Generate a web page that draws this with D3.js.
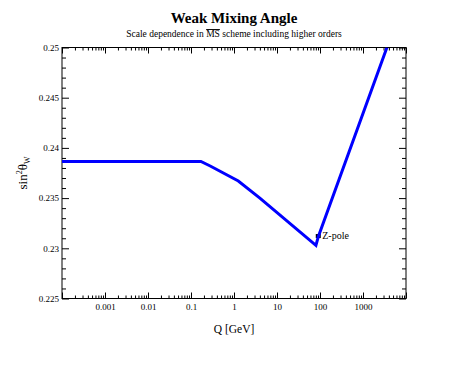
<!DOCTYPE html>
<html><head><meta charset="utf-8">
<script src="https://cdn.jsdelivr.net/npm/d3@7"></script>
<style>
html,body{margin:0;padding:0;background:#fff;}
svg{display:block;}
</style></head>
<body>
<script>
// ---- data ----
const qValues    = [0.0001, 0.17, 0.28, 1.26, 4.0, 80.4, 91.19, 3600];
const sin2Values = [0.23865, 0.23865, 0.2382, 0.2367, 0.2350, 0.2303, 0.23115, 0.2500];
const zPole = {q: 91.19, value: 0.23122, label: "Z-pole"};
const xTickValues = [0.001, 0.01, 0.1, 1, 10, 100, 1000];
const xTickLabels = ["0.001", "0.01", "0.1", "1", "10", "100", "1000"];
const yTickValues = [0.225, 0.23, 0.235, 0.24, 0.245, 0.25];
const yTickLabels = ["0.225", "0.23", "0.235", "0.24", "0.245", "0.25"];
const titleText = "Weak Mixing Angle";
const xTitle = "Q [GeV]";

const FONT = "Liberation Serif";
const W = 473, H = 373;
const m = {left: 62, right: 67, top: 47.5, bottom: 74.5};
const iw = W - m.left - m.right, ih = H - m.top - m.bottom;

const svg = d3.select("body").append("svg").attr("width", W).attr("height", H)
  .attr("font-family", FONT);
svg.append("rect").attr("width", W).attr("height", H).attr("fill", "#fff");

const x = d3.scaleLog().domain([1e-4, 1e4]).range([0, iw]);
const y = d3.scaleLinear().domain([0.225, 0.25]).range([ih, 0]);

const g = svg.append("g").attr("transform", `translate(${m.left},${m.top})`);

const xMinor = [];
for (let e = -4; e < 4; e++) for (let k = 2; k <= 9; k++) xMinor.push(k * Math.pow(10, e));
const xMajorAll = d3.range(-4, 5).map(e => Math.pow(10, e));
const yMinor = d3.range(0, 26).map(i => 0.225 + i * 0.001).filter(v => Math.abs(Math.round(v * 200) - v * 200) > 1e-6);

function drawAxis(axis, tr) {
  const a = g.append("g").attr("transform", tr).call(axis);
  a.attr("font-family", FONT).attr("font-size", 9);
  a.select(".domain").remove();
  a.selectAll("line").attr("stroke", "#000").attr("stroke-width", 1);
  a.selectAll("text").attr("fill", "#000");
  return a;
}
// bottom
drawAxis(d3.axisBottom(x).tickValues(xMinor).tickSize(-3).tickFormat(""), `translate(0,${ih})`);
drawAxis(d3.axisBottom(x).tickValues(xMajorAll).tickSize(-6).tickFormat(""), `translate(0,${ih})`);
drawAxis(d3.axisBottom(x).tickValues(xTickValues).tickSize(0).tickPadding(5)
  .tickFormat((d, i) => xTickLabels[i]), `translate(0,${ih})`);
// top
drawAxis(d3.axisTop(x).tickValues(xMinor).tickSize(-3).tickFormat(""), `translate(0,0)`);
drawAxis(d3.axisTop(x).tickValues(xMajorAll).tickSize(-6).tickFormat(""), `translate(0,0)`);
// left
drawAxis(d3.axisLeft(y).tickValues(yMinor).tickSize(-4).tickFormat(""), `translate(0,0)`);
drawAxis(d3.axisLeft(y).tickValues(yTickValues).tickSize(-7).tickPadding(3)
  .tickFormat((d, i) => yTickLabels[i]), `translate(0,0)`);
// right
drawAxis(d3.axisRight(y).tickValues(yMinor).tickSize(-4).tickFormat(""), `translate(${iw},0)`);
drawAxis(d3.axisRight(y).tickValues(yTickValues).tickSize(-7).tickFormat(""), `translate(${iw},0)`);

g.append("rect").attr("width", iw).attr("height", ih).attr("fill", "none").attr("stroke", "#000").attr("stroke-width", 1);

svg.append("clipPath").attr("id", "clip").append("rect")
  .attr("x", m.left).attr("y", m.top).attr("width", iw).attr("height", ih);

const pts = qValues.map((q, i) => [q, sin2Values[i]]);
const line = d3.line().x(d => x(d[0])).y(d => y(d[1]));
svg.append("g").attr("clip-path", "url(#clip)").append("path")
  .attr("transform", `translate(${m.left},${m.top})`)
  .datum(pts).attr("d", line).attr("fill", "none")
  .attr("stroke", "#0000ff").attr("stroke-width", 3).attr("stroke-linejoin", "miter");

g.append("rect").attr("x", x(zPole.q) - 2.5).attr("y", y(zPole.value) - 2)
  .attr("width", 5).attr("height", 4).attr("fill", "#000");
g.append("text").attr("x", x(zPole.q) + 4).attr("y", y(zPole.value) + 3)
  .attr("font-size", 10).attr("fill", "#000").text(zPole.label);

svg.append("text").attr("x", 234).attr("y", 23).attr("text-anchor", "middle")
  .attr("font-size", 15).attr("font-weight", "bold").text(titleText);
const sub = svg.append("text").attr("x", 234).attr("y", 37).attr("text-anchor", "middle")
  .attr("font-size", 9.5);
sub.append("tspan").text("Scale dependence in ");
sub.append("tspan").style("text-decoration", "overline").text("MS");
sub.append("tspan").text(" scheme including higher orders");

svg.append("text").attr("x", m.left + iw / 2).attr("y", 333).attr("text-anchor", "middle")
  .attr("font-size", 11.5).text(xTitle);

const yt = svg.append("text").attr("transform", `translate(27,${m.top + ih / 2}) rotate(-90)`)
  .attr("text-anchor", "middle").attr("font-size", 13);
yt.append("tspan").text("sin");
yt.append("tspan").attr("dy", -5).attr("font-size", 8).text("2");
yt.append("tspan").attr("dy", 5).text("θ");
yt.append("tspan").attr("dy", 3).attr("font-size", 8).text("W");
</script>
</body></html>
